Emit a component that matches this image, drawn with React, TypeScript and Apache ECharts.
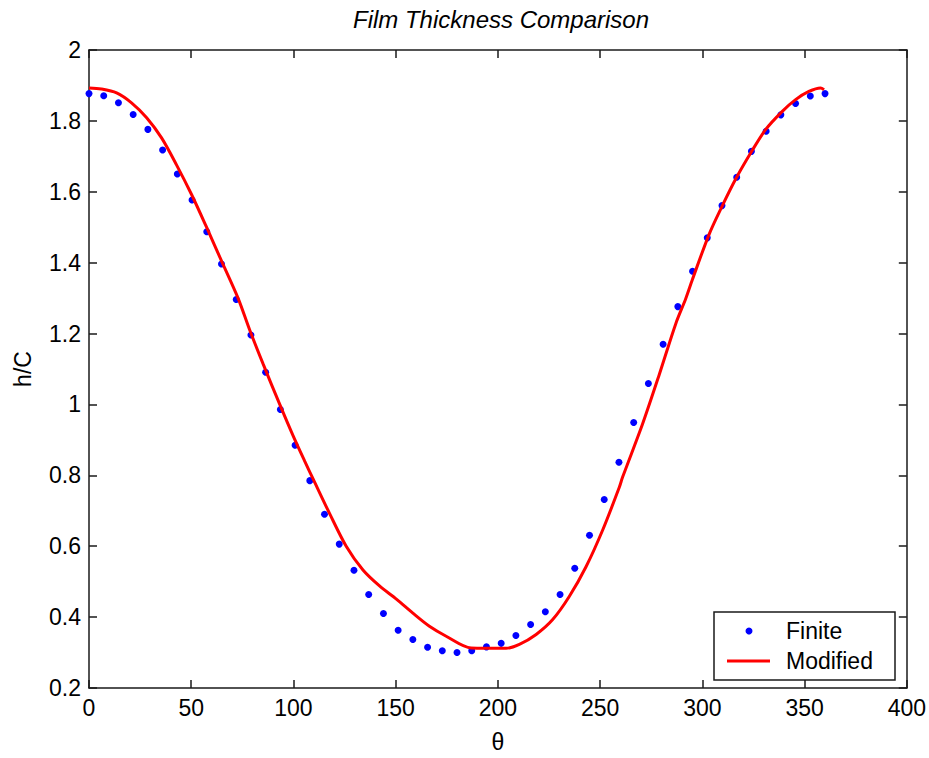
import React, { useEffect, useRef } from "react";
import * as echarts from "echarts";

const titleText = "Film Thickness Comparison";
const xName = "θ";
const yName = "h/C";

const finiteTheta = [
  0, 7.2, 14.4, 21.6, 28.8, 36, 43.2, 50.4, 57.6, 64.8, 72, 79.2, 86.4, 93.6, 100.8, 108, 115.2,
  122.4, 129.6, 136.8, 144, 151.2, 158.4, 165.6, 172.8, 180, 187.2, 194.4, 201.6, 208.8, 216,
  223.2, 230.4, 237.6, 244.8, 252, 259.2, 266.4, 273.6, 280.8, 288, 295.2, 302.4, 309.6, 316.8,
  324, 331.2, 338.4, 345.6, 352.8, 360,
];
const finiteH = [
  1.877, 1.871, 1.851, 1.818, 1.776, 1.718, 1.65, 1.577, 1.487, 1.396, 1.296, 1.196, 1.091,
  0.986, 0.885, 0.785, 0.69, 0.606, 0.532, 0.464, 0.41, 0.363, 0.337, 0.315, 0.305, 0.3, 0.305,
  0.316, 0.326, 0.348, 0.379, 0.415, 0.464, 0.538, 0.631, 0.732, 0.837, 0.949, 1.059, 1.17,
  1.276, 1.376, 1.47, 1.561, 1.641, 1.714, 1.771, 1.817, 1.849, 1.87, 1.877,
];

const modifiedTheta = [
  0, 6, 13.5, 20.8, 28.2, 35.5, 42.8, 50.1, 57.5, 64.8, 72.9, 78.6, 85.1, 93.3, 99.8, 105.5,
  109.6, 117.7, 125.8, 134, 142.1, 150.5, 158.4, 166.5, 174.7, 186.9, 204, 210.5, 218.7, 226.8,
  234.9, 243.1, 251.2, 259.3, 261, 270.7, 278.9, 287, 291.9, 295.1, 303.3, 309.8, 316.3, 323.7,
  331, 339.1, 345.6, 352.1, 357.8, 359.5,
];
const modifiedH = [
  1.893, 1.89, 1.879, 1.851, 1.809, 1.752, 1.676, 1.593, 1.5, 1.405, 1.3, 1.21, 1.115, 1.0,
  0.912, 0.84, 0.79, 0.692, 0.6, 0.533, 0.488, 0.45, 0.411, 0.374, 0.346, 0.313, 0.312, 0.323,
  0.351, 0.393, 0.458, 0.542, 0.645, 0.765, 0.795, 0.944, 1.084, 1.228, 1.299, 1.352, 1.48,
  1.561, 1.636, 1.71, 1.776, 1.827, 1.86, 1.883, 1.893, 1.888,
];

const legendNames = ["Finite", "Modified"];

const FONT = "'Liberation Sans', Arial, Helvetica, sans-serif";

export default function App() {
  const ref = useRef<HTMLDivElement>(null);

  useEffect(() => {
    if (!ref.current) return;
    const chart = echarts.init(ref.current, undefined, { renderer: "svg" });

    const axisCommon = {
      type: "value" as const,
      axisLine: { show: true, onZero: false, lineStyle: { color: "#1a1a1a", width: 1.5 } },
      axisTick: { show: true, inside: true, length: 8, lineStyle: { color: "#1a1a1a", width: 1.5 } },
      splitLine: { show: false },
    };
    const labelStyle = { color: "#000", fontSize: 23, fontFamily: FONT };

    chart.setOption({
      animation: false,
      backgroundColor: "#ffffff",
      title: {
        text: titleText,
        left: 496,
        top: 2,
        textAlign: "center",
        textStyle: { fontSize: 24, fontStyle: "italic", fontWeight: "normal", color: "#000", fontFamily: FONT },
      },
      grid: { left: 89, right: 21, top: 50, bottom: 66, containLabel: false },
      xAxis: [
        {
          ...axisCommon,
          position: "bottom",
          min: 0,
          max: 400,
          interval: 50,
          axisLabel: { ...labelStyle, margin: 8 },
          name: xName,
          nameLocation: "middle",
          nameGap: 42,
          nameTextStyle: { ...labelStyle },
        },
        {
          ...axisCommon,
          position: "top",
          min: 0,
          max: 400,
          interval: 50,
          axisLabel: { show: false },
        },
      ],
      yAxis: [
        {
          ...axisCommon,
          position: "left",
          min: 0.2,
          max: 2,
          interval: 0.2,
          axisLabel: {
            ...labelStyle,
            margin: 8,
            formatter: (v: number) => String(+v.toFixed(1)),
          },
          name: yName,
          nameLocation: "middle",
          nameGap: 55,
          nameTextStyle: { ...labelStyle },
        },
        {
          ...axisCommon,
          position: "right",
          min: 0.2,
          max: 2,
          interval: 0.2,
          axisLabel: { show: false },
        },
      ],
      series: [
        {
          name: legendNames[0],
          type: "scatter",
          xAxisIndex: 0,
          yAxisIndex: 0,
          symbol: "circle",
          symbolSize: 7,
          itemStyle: { color: "#0000ff", opacity: 1 },
          data: finiteTheta.map((t, i) => [t, finiteH[i]]),
          z: 2,
        },
        {
          name: legendNames[1],
          type: "line",
          xAxisIndex: 0,
          yAxisIndex: 0,
          showSymbol: false,
          symbol: "none",
          smooth: 0.3,
          lineStyle: { color: "#ff0000", width: 3 },
          data: modifiedTheta.map((t, i) => [t, modifiedH[i]]),
          z: 3,
        },
      ],
      graphic: [
        {
          type: "rect",
          shape: { x: 714, y: 612, width: 181, height: 68 },
          style: { fill: "#ffffff", stroke: "#1a1a1a", lineWidth: 1.5 },
          z: 10,
        },
        {
          type: "circle",
          shape: { cx: 749, cy: 631, r: 3.5 },
          style: { fill: "#0000ff" },
          z: 11,
        },
        {
          type: "line",
          shape: { x1: 727, y1: 661, x2: 770, y2: 661 },
          style: { stroke: "#ff0000", lineWidth: 3 },
          z: 11,
        },
        {
          type: "text",
          x: 786,
          y: 631,
          style: { text: legendNames[0], fill: "#000", fontSize: 23, fontFamily: FONT, verticalAlign: "middle" },
          z: 11,
        },
        {
          type: "text",
          x: 786,
          y: 661,
          style: { text: legendNames[1], fill: "#000", fontSize: 23, fontFamily: FONT, verticalAlign: "middle" },
          z: 11,
        },
      ],
    });

    return () => chart.dispose();
  }, []);

  return (
    <div
      ref={ref}
      style={{ position: "fixed", left: 0, top: 0, width: 929, height: 758, background: "#fff" }}
    />
  );
}
